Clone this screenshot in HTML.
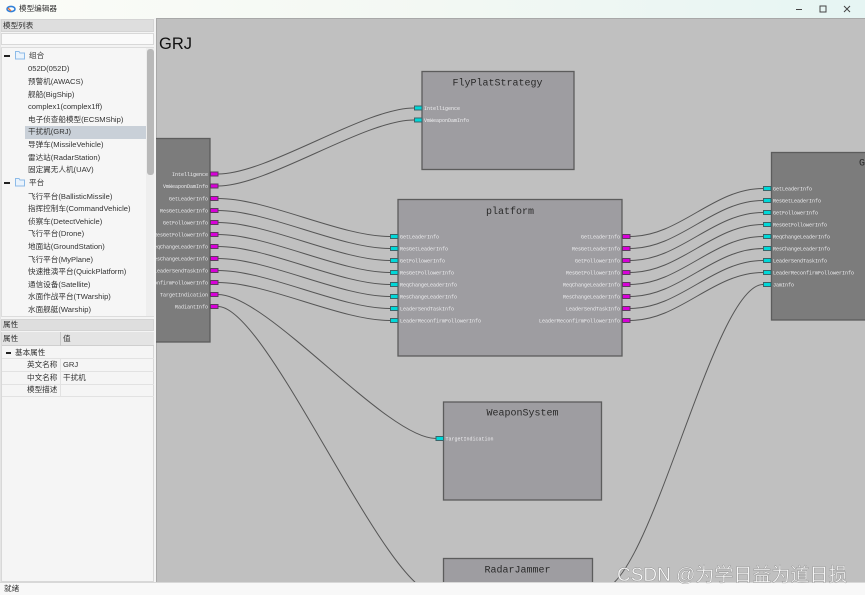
<!DOCTYPE html>
<html><head><meta charset="utf-8">
<style>
html,body{margin:0;padding:0;width:865px;height:595px;overflow:hidden;background:#f4f4f4}
body{font-family:"Liberation Sans","Noto Sans CJK SC",sans-serif;position:relative;color:#333}
#w{position:absolute;left:0;top:0;width:865px;height:595px;overflow:hidden;filter:blur(.3px)}
.a{position:absolute}
.t{position:absolute;font-size:7.6px;line-height:12px;height:12px;white-space:nowrap;color:#333}
</style></head>
<body><div id="w">
<div class="a" style="left:0;top:0;width:865px;height:19px;background:linear-gradient(90deg,#fbfcf8,#f3f8f3 50%,#e6f5f3)"></div>
<svg class="a" style="left:5px;top:4px" width="12" height="10"><ellipse cx="6" cy="5" rx="4" ry="2.6" fill="none" stroke="#2f7fd8" stroke-width="1.6"/><path d="M3 4l3 3" stroke="#e8743a" stroke-width="1.4"/></svg>
<div class="t" style="left:19px;top:3px">模型编辑器</div>
<svg class="a" style="left:790px;top:2px" width="75" height="14" fill="none" stroke="#444" stroke-width="1"><path d="M6 7.500h6"/><rect x="30" y="4" width="6" height="6"/><path d="M54 4l6 6M60 4l-6 6"/></svg>

<!-- left panel -->
<div class="a" style="left:1px;top:19px;width:153px;height:13px;background:#dedede;border:1px solid #d4d4d4;box-sizing:border-box"></div>
<div class="t" style="left:3px;top:19.500px">模型列表</div>
<div class="a" style="left:1px;top:33px;width:153px;height:12px;background:#fafafa;border:1px solid #d8d8d8;box-sizing:border-box"></div>
<div class="a" style="left:1px;top:47px;width:153px;height:270px;background:#f6f6f6;border:1px solid #dcdcdc;box-sizing:border-box"></div>
<div class="a" style="left:146px;top:48px;width:8px;height:268px;background:#eeeeee"></div>
<div class="a" style="left:146.500px;top:49px;width:7px;height:126px;background:#b9b9b9;border-radius:3px"></div>
<div class="a" style="left:25px;top:126px;width:121px;height:12.500px;background:#c9d0d8"></div>

<div class="a" style="left:4px;top:55px;width:6px;height:2px;background:#222"></div>
<div class="a" style="left:4px;top:182px;width:6px;height:2px;background:#222"></div>
<svg class="a" style="left:15px;top:50px" width="10" height="10"><path d="M.5 1.500h3.500l1 1.500h4.500v6h-9z" fill="#eaf3fc" stroke="#8dbbe8"/></svg>
<svg class="a" style="left:15px;top:177px" width="10" height="10"><path d="M.5 1.500h3.500l1 1.500h4.500v6h-9z" fill="#eaf3fc" stroke="#8dbbe8"/></svg>

<div class="t" style="left:29px;top:50px">组合</div>
<div class="t" style="left:28px;top:63px">052D(052D)</div>
<div class="t" style="left:28px;top:76px">预警机(AWACS)</div>
<div class="t" style="left:28px;top:88.500px">舰船(BigShip)</div>
<div class="t" style="left:28px;top:101px">complex1(complex1ff)</div>
<div class="t" style="left:28px;top:113.500px">电子侦查船模型(ECSMShip)</div>
<div class="t" style="left:28px;top:126px">干扰机(GRJ)</div>
<div class="t" style="left:28px;top:139px">导弹车(MissileVehicle)</div>
<div class="t" style="left:28px;top:151.500px">雷达站(RadarStation)</div>
<div class="t" style="left:28px;top:164px">固定翼无人机(UAV)</div>
<div class="t" style="left:29px;top:177px">平台</div>
<div class="t" style="left:28px;top:190.500px">飞行平台(BallisticMissile)</div>
<div class="t" style="left:28px;top:203px">指挥控制车(CommandVehicle)</div>
<div class="t" style="left:28px;top:215.500px">侦察车(DetectVehicle)</div>
<div class="t" style="left:28px;top:228px">飞行平台(Drone)</div>
<div class="t" style="left:28px;top:241px">地面站(GroundStation)</div>
<div class="t" style="left:28px;top:253.500px">飞行平台(MyPlane)</div>
<div class="t" style="left:28px;top:266px">快速推演平台(QuickPlatform)</div>
<div class="t" style="left:28px;top:278.500px">通信设备(Satellite)</div>
<div class="t" style="left:28px;top:291px">水面作战平台(TWarship)</div>
<div class="t" style="left:28px;top:304px">水面舰艇(Warship)</div>

<!-- properties -->
<div class="a" style="left:1px;top:319px;width:153px;height:12px;background:#dedede;border:1px solid #d4d4d4;box-sizing:border-box"></div>
<div class="t" style="left:3px;top:319px">属性</div>
<div class="a" style="left:1px;top:332px;width:153px;height:250px;background:#f5f5f5;border:1px solid #d8d8d8;box-sizing:border-box"></div>
<div class="a" style="left:2px;top:332px;width:152px;height:14px;background:#e4e4e4;border-bottom:1px solid #cfcfcf;box-sizing:border-box"></div>
<div class="a" style="left:60px;top:332px;width:1px;height:14px;background:#c8c8c8"></div>
<div class="t" style="left:3px;top:333px">属性</div>
<div class="t" style="left:63px;top:333px">值</div>
<div class="a" style="left:6px;top:352px;width:5px;height:1.500px;background:#222"></div>
<div class="t" style="left:15px;top:346.500px">基本属性</div>
<div class="t" style="left:27px;top:359px">英文名称</div><div class="t" style="left:63px;top:359px">GRJ</div>
<div class="t" style="left:27px;top:371.500px">中文名称</div><div class="t" style="left:63px;top:371.500px">干扰机</div>
<div class="t" style="left:27px;top:384px">模型描述</div>
<div class="a" style="left:2px;top:358px;width:152px;height:1px;background:#e2e2e2"></div>
<div class="a" style="left:2px;top:371px;width:152px;height:1px;background:#e2e2e2"></div>
<div class="a" style="left:2px;top:383.500px;width:152px;height:1px;background:#e2e2e2"></div>
<div class="a" style="left:2px;top:396px;width:152px;height:1px;background:#e2e2e2"></div>
<div class="a" style="left:60px;top:358px;width:1px;height:38px;background:#e2e2e2"></div>

<!-- canvas -->
<svg class="a" style="left:156px;top:18px;overflow:hidden" width="709" height="564" viewBox="156 18 709 564" font-family="'Liberation Mono',monospace">
<rect x="156" y="18" width="709" height="564" fill="#c0c0c0"/>
<path d="M156 18.500H865" stroke="#a8a8a8"/><path d="M156.500 18V582" stroke="#a8a8a8"/>
<text x="159" y="49" font-family="'Liberation Sans',sans-serif" font-size="16.500" fill="#111">GRJ</text>

<g fill="none" stroke="#555" stroke-width="1">
<path d="M218 174C268 174 364 108 414 108"/>
<path d="M218 186C268 186 364 120 414 120"/>
<path d="M218 198.500C268 198.500 340 236.500 390 236.500"/>
<path d="M218 210.500C268 210.500 340 248.500 390 248.500"/>
<path d="M218 222.500C268 222.500 340 260.500 390 260.500"/>
<path d="M218 234.500C268 234.500 340 272.500 390 272.500"/>
<path d="M218 246.500C268 246.500 340 284.500 390 284.500"/>
<path d="M218 258.500C268 258.500 340 296.500 390 296.500"/>
<path d="M218 270.500C268 270.500 340 308.500 390 308.500"/>
<path d="M218 282.500C268 282.500 340 320.500 390 320.500"/>
<path d="M218 294.500C268 294.500 386 438.500 436 438.500"/>
<path d="M218 306.500C268 306.500 386 594 436 594"/>
<path d="M630 236.500C680 236.500 713 188.500 763 188.500"/>
<path d="M630 248.500C680 248.500 713 200.500 763 200.500"/>
<path d="M630 260.500C680 260.500 713 212.500 763 212.500"/>
<path d="M630 272.500C680 272.500 713 224.500 763 224.500"/>
<path d="M630 284.500C680 284.500 713 236.500 763 236.500"/>
<path d="M630 296.500C680 296.500 713 248.500 763 248.500"/>
<path d="M630 308.500C680 308.500 713 260.500 763 260.500"/>
<path d="M630 320.500C680 320.500 713 272.500 763 272.500"/>
<path d="M763 284.500C713 284.500 650 590 600 590"/>
</g>

<g stroke="#5c5c5c" stroke-width="1.300">
<rect x="140" y="138.500" width="70" height="203.500" fill="#7c7c7c"/>
<rect x="771.500" y="152.500" width="110" height="167.500" fill="#7c7c7c"/>
<rect x="422" y="71.500" width="152" height="98" fill="#9e9da1"/>
<rect x="398" y="199.500" width="224" height="156.500" fill="#9e9da1"/>
<rect x="443.500" y="402" width="158" height="98" fill="#9e9da1"/>
<rect x="443.500" y="558.500" width="149" height="40" fill="#9e9da1"/>
</g>

<g font-size="10" fill="#2a2a2a" text-anchor="middle">
<text x="497.500" y="85.500">FlyPlatStrategy</text>
<text x="510" y="214">platform</text>
<text x="522.500" y="415.500">WeaponSystem</text>
<text x="517.500" y="572.500">RadarJammer</text>
<text x="862" y="165.500">G</text>
</g>

<g fill="#00d8d8" stroke="#3c6468" stroke-width="1">
<rect x="414.500" y="106" width="7.500" height="4"/><rect x="414.500" y="118" width="7.500" height="4"/>
<rect x="390.500" y="234.500" width="7.500" height="4"/><rect x="390.500" y="246.500" width="7.500" height="4"/><rect x="390.500" y="258.500" width="7.500" height="4"/><rect x="390.500" y="270.500" width="7.500" height="4"/><rect x="390.500" y="282.500" width="7.500" height="4"/><rect x="390.500" y="294.500" width="7.500" height="4"/><rect x="390.500" y="306.500" width="7.500" height="4"/><rect x="390.500" y="318.500" width="7.500" height="4"/>
<rect x="763.500" y="186.500" width="7.500" height="4"/><rect x="763.500" y="198.500" width="7.500" height="4"/><rect x="763.500" y="210.500" width="7.500" height="4"/><rect x="763.500" y="222.500" width="7.500" height="4"/><rect x="763.500" y="234.500" width="7.500" height="4"/><rect x="763.500" y="246.500" width="7.500" height="4"/><rect x="763.500" y="258.500" width="7.500" height="4"/><rect x="763.500" y="270.500" width="7.500" height="4"/><rect x="763.500" y="282.500" width="7.500" height="4"/>
<rect x="436" y="436.500" width="7.500" height="4"/>
</g>
<g fill="#d800d8" stroke="#5c3c5c" stroke-width="1">
<rect x="210.500" y="172" width="7.500" height="4"/><rect x="210.500" y="184" width="7.500" height="4"/><rect x="210.500" y="196.500" width="7.500" height="4"/><rect x="210.500" y="208.500" width="7.500" height="4"/><rect x="210.500" y="220.500" width="7.500" height="4"/><rect x="210.500" y="232.500" width="7.500" height="4"/><rect x="210.500" y="244.500" width="7.500" height="4"/><rect x="210.500" y="256.500" width="7.500" height="4"/><rect x="210.500" y="268.500" width="7.500" height="4"/><rect x="210.500" y="280.500" width="7.500" height="4"/><rect x="210.500" y="292.500" width="7.500" height="4"/><rect x="210.500" y="304.500" width="7.500" height="4"/>
<rect x="622.500" y="234.500" width="7.500" height="4"/><rect x="622.500" y="246.500" width="7.500" height="4"/><rect x="622.500" y="258.500" width="7.500" height="4"/><rect x="622.500" y="270.500" width="7.500" height="4"/><rect x="622.500" y="282.500" width="7.500" height="4"/><rect x="622.500" y="294.500" width="7.500" height="4"/><rect x="622.500" y="306.500" width="7.500" height="4"/><rect x="622.500" y="318.500" width="7.500" height="4"/>
</g>

<g font-size="5" fill="#eeeef0">
<text x="424" y="110">Intelligence</text>
<text x="424" y="122">VmWeaponDamInfo</text>
<text x="400" y="238.500">GetLeaderInfo</text>
<text x="400" y="250.500">ResGetLeaderInfo</text>
<text x="400" y="262.500">GetFollowerInfo</text>
<text x="400" y="274.500">ResGetFollowerInfo</text>
<text x="400" y="286.500">ReqChangeLeaderInfo</text>
<text x="400" y="298.500">ResChangeLeaderInfo</text>
<text x="400" y="310.500">LeaderSendTaskInfo</text>
<text x="400" y="322.500">LeaderReconfirmFollowerInfo</text>
<text x="773" y="190.500">GetLeaderInfo</text>
<text x="773" y="202.500">ResGetLeaderInfo</text>
<text x="773" y="214.500">GetFollowerInfo</text>
<text x="773" y="226.500">ResGetFollowerInfo</text>
<text x="773" y="238.500">ReqChangeLeaderInfo</text>
<text x="773" y="250.500">ResChangeLeaderInfo</text>
<text x="773" y="262.500">LeaderSendTaskInfo</text>
<text x="773" y="274.500">LeaderReconfirmFollowerInfo</text>
<text x="773" y="286.500">JamInfo</text>
<text x="445.500" y="440.500">TargetIndication</text>
</g>
<g font-size="5" fill="#eeeef0" text-anchor="end">
<text x="620" y="238.500">GetLeaderInfo</text>
<text x="620" y="250.500">ResGetLeaderInfo</text>
<text x="620" y="262.500">GetFollowerInfo</text>
<text x="620" y="274.500">ResGetFollowerInfo</text>
<text x="620" y="286.500">ReqChangeLeaderInfo</text>
<text x="620" y="298.500">ResChangeLeaderInfo</text>
<text x="620" y="310.500">LeaderSendTaskInfo</text>
<text x="620" y="322.500">LeaderReconfirmFollowerInfo</text>
<text x="208" y="176">Intelligence</text>
<text x="208" y="188">VmWeaponDamInfo</text>
<text x="208" y="200.500">GetLeaderInfo</text>
<text x="208" y="212.500">ResGetLeaderInfo</text>
<text x="208" y="224.500">GetFollowerInfo</text>
<text x="208" y="236.500">ResGetFollowerInfo</text>
<text x="208" y="248.500">ReqChangeLeaderInfo</text>
<text x="208" y="260.500">ResChangeLeaderInfo</text>
<text x="208" y="272.500">LeaderSendTaskInfo</text>
<text x="208" y="284.500">LeaderReconfirmFollowerInfo</text>
<text x="208" y="296.500">TargetIndication</text>
<text x="208" y="308.500">RadiantInfo</text>
</g>
</svg>
<div class="a" style="left:154px;top:18px;width:2px;height:564px;background:#f4f4f4"></div>
<div class="a" style="left:0;top:19px;width:1px;height:563px;background:#e4e4e4"></div>

<!-- status -->
<div class="a" style="left:0;top:581.500px;width:865px;height:13px;background:#f8f8f8;border-top:1px solid #d8d8d8;box-sizing:border-box"></div>
<div class="t" style="left:4px;top:582.500px">就绪</div>
<div class="a" style="left:617px;top:564px;font-size:19px;line-height:24px;white-space:nowrap;color:#fff;-webkit-text-stroke:.4px #8a8a8a;opacity:.9">CSDN @为学日益为道日损</div>
</div></body></html>
